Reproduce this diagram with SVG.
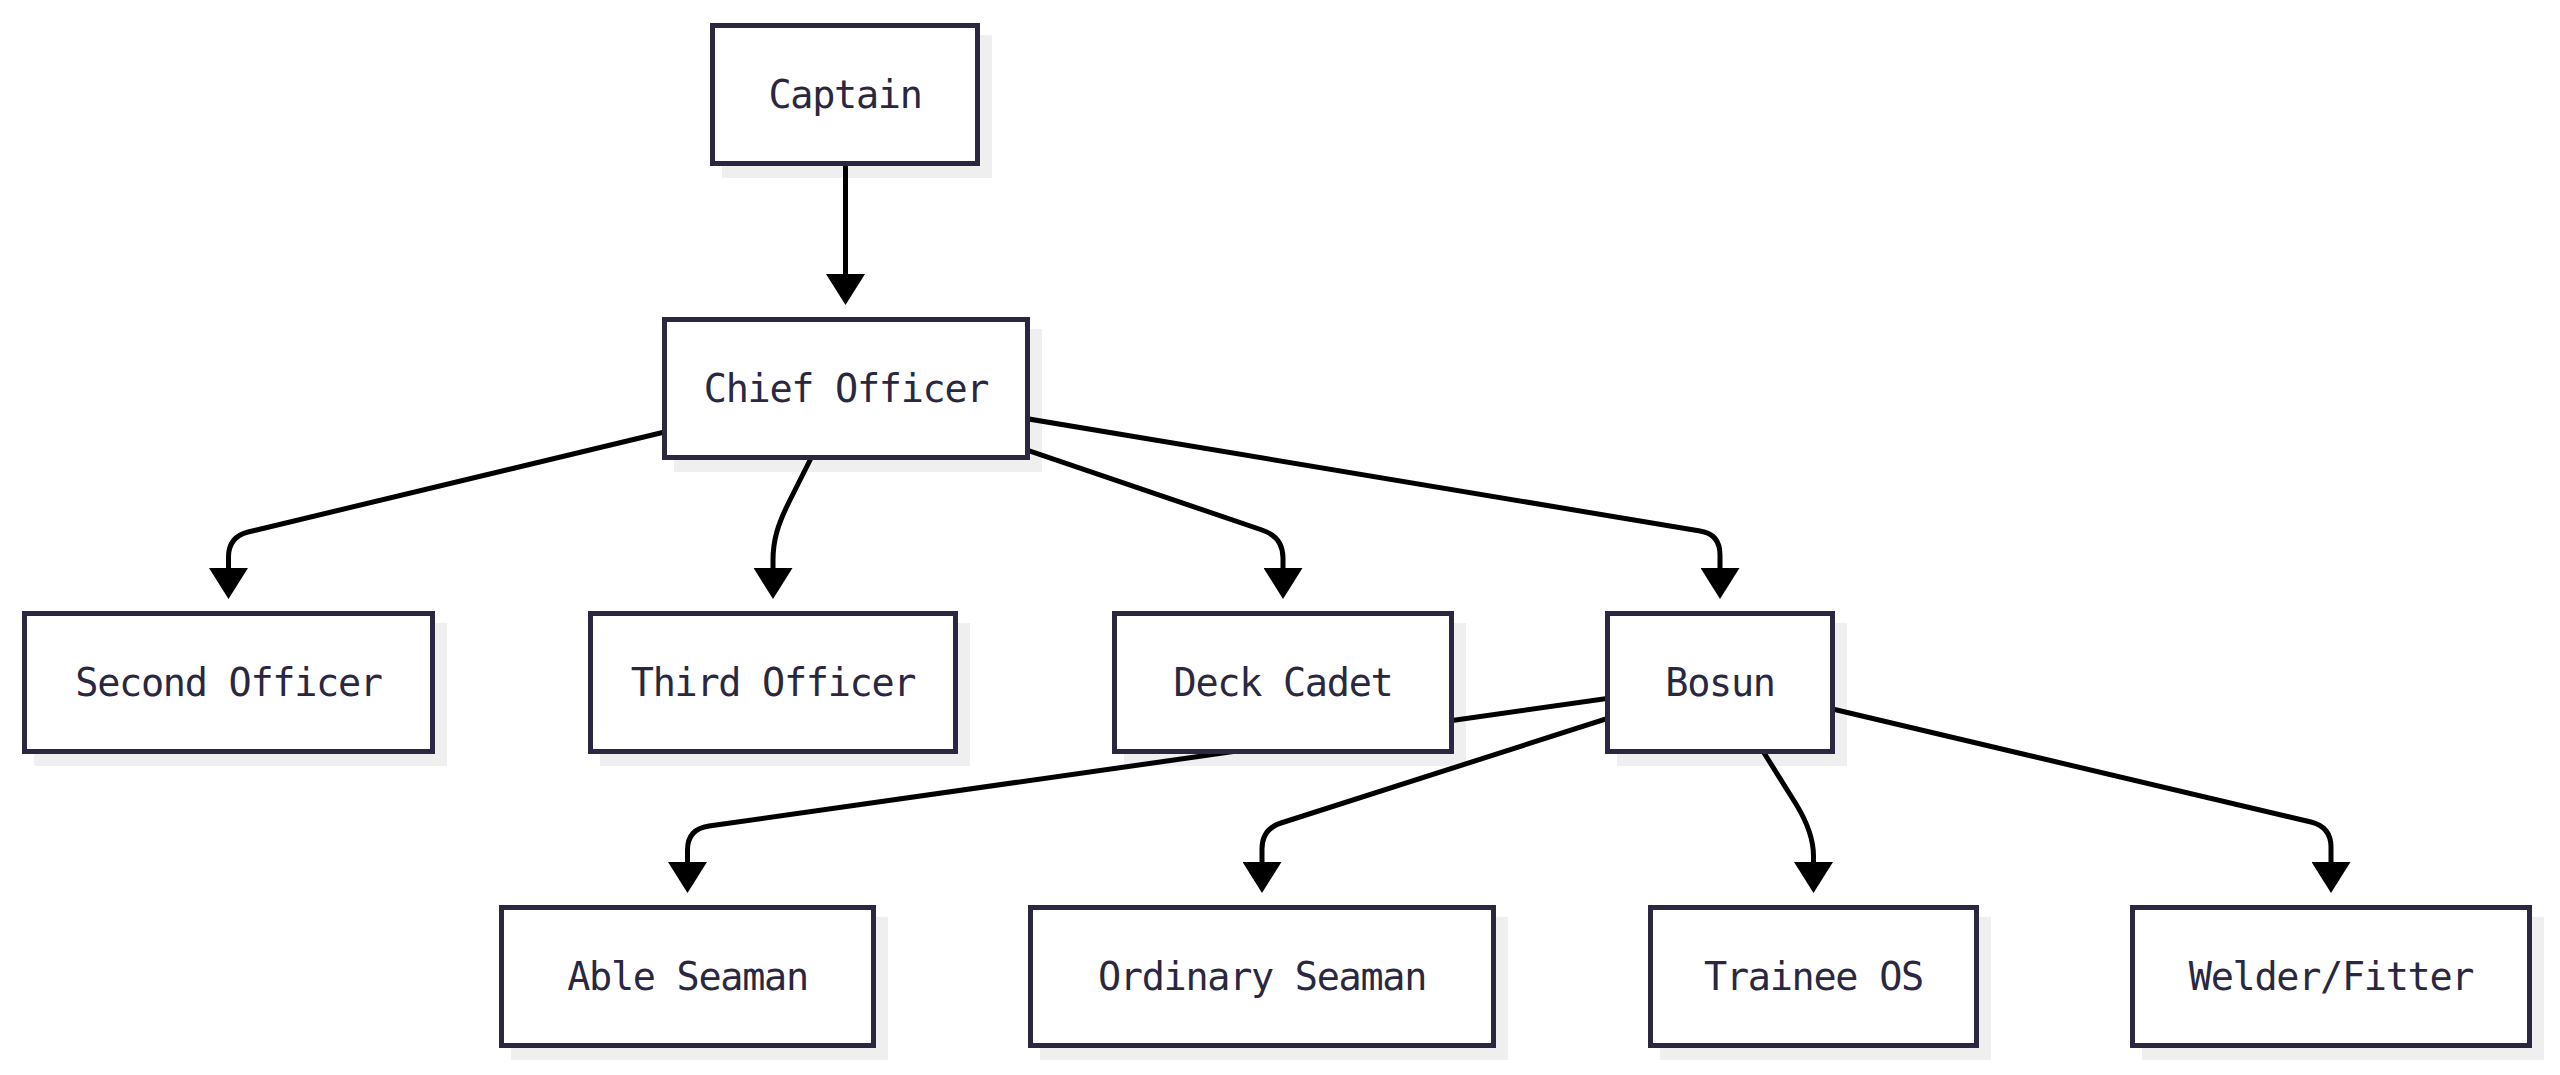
<svg xmlns="http://www.w3.org/2000/svg" width="2560" height="1075" viewBox="0 0 2560 1075">
<style>
.shadow{fill:#efefef;stroke:none}
.node rect{fill:#ffffff;stroke:#2a2740;stroke-width:5}
.node text{font-family:"DejaVu Sans Mono","Liberation Mono",monospace;font-size:38.5px;letter-spacing:-1.3px;fill:#2a2740;text-anchor:middle}
.edge{fill:none;stroke:#000000;stroke-width:5;marker-end:url(#arrow)}
</style>
<defs>
<marker id="arrow" markerUnits="userSpaceOnUse" viewBox="0 0 31 39" refX="0" refY="19.5" markerWidth="31" markerHeight="39" orient="auto">
<path d="M0,0 L31,19.5 L0,39 Z" fill="#000000"/>
</marker>
</defs>
<rect width="2560" height="1075" fill="#ffffff"/>
<g id="shadows">
<rect class="shadow" x="722" y="35" width="270" height="143"/>
<rect class="shadow" x="674" y="329" width="368" height="143"/>
<rect class="shadow" x="34" y="623" width="413" height="143"/>
<rect class="shadow" x="600" y="623" width="370" height="143"/>
<rect class="shadow" x="1124" y="623" width="342" height="143"/>
<rect class="shadow" x="1617" y="623" width="230" height="143"/>
<rect class="shadow" x="511" y="917" width="377" height="143"/>
<rect class="shadow" x="1040" y="917" width="468" height="143"/>
<rect class="shadow" x="1660" y="917" width="331" height="143"/>
<rect class="shadow" x="2142" y="917" width="402" height="143"/>
</g>
<g id="edges">
<path class="edge" d="M845.5,94 L845.5,274"/>
<path class="edge" d="M846,388.5 L248,532 Q228.5,537 228.5,557 L228.5,568"/>
<path class="edge" d="M846,388.5 L789,502 C778,524 773,540 773,560 L773,568"/>
<path class="edge" d="M846,388.5 L1262,530 Q1283,537 1283,558 L1283,568"/>
<path class="edge" d="M846,388.5 L1700,531 Q1720,534 1720,555 L1720,568"/>
<path class="edge" d="M1720,682.5 L709,826 Q687.5,829 687.5,850 L687.5,862"/>
<path class="edge" d="M1720,682.5 L1281,823 Q1262,829 1262,849 L1262,862"/>
<path class="edge" d="M1720,682.5 L1796,804 C1807,822 1813.5,838 1813.5,856 L1813.5,862"/>
<path class="edge" d="M1720,682.5 L2311,822 Q2331,827 2331,847 L2331,862"/>
</g>
<g id="node-captain" class="node">
<rect x="712.5" y="25.5" width="265" height="138"/>
<text x="845" y="108">Captain</text>
</g>
<g id="node-chief-officer" class="node">
<rect x="664.5" y="319.5" width="363" height="138"/>
<text x="846" y="402">Chief Officer</text>
</g>
<g id="node-second-officer" class="node">
<rect x="24.5" y="613.5" width="408" height="138"/>
<text x="228.5" y="696">Second Officer</text>
</g>
<g id="node-third-officer" class="node">
<rect x="590.5" y="613.5" width="365" height="138"/>
<text x="773" y="696">Third Officer</text>
</g>
<g id="node-deck-cadet" class="node">
<rect x="1114.5" y="613.5" width="337" height="138"/>
<text x="1283" y="696">Deck Cadet</text>
</g>
<g id="node-bosun" class="node">
<rect x="1607.5" y="613.5" width="225" height="138"/>
<text x="1720" y="696">Bosun</text>
</g>
<g id="node-able-seaman" class="node">
<rect x="501.5" y="907.5" width="372" height="138"/>
<text x="687.5" y="990">Able Seaman</text>
</g>
<g id="node-ordinary-seaman" class="node">
<rect x="1030.5" y="907.5" width="463" height="138"/>
<text x="1262" y="990">Ordinary Seaman</text>
</g>
<g id="node-trainee-os" class="node">
<rect x="1650.5" y="907.5" width="326" height="138"/>
<text x="1813.5" y="990">Trainee OS</text>
</g>
<g id="node-welder-fitter" class="node">
<rect x="2132.5" y="907.5" width="397" height="138"/>
<text x="2331" y="990">Welder/Fitter</text>
</g>
</svg>
